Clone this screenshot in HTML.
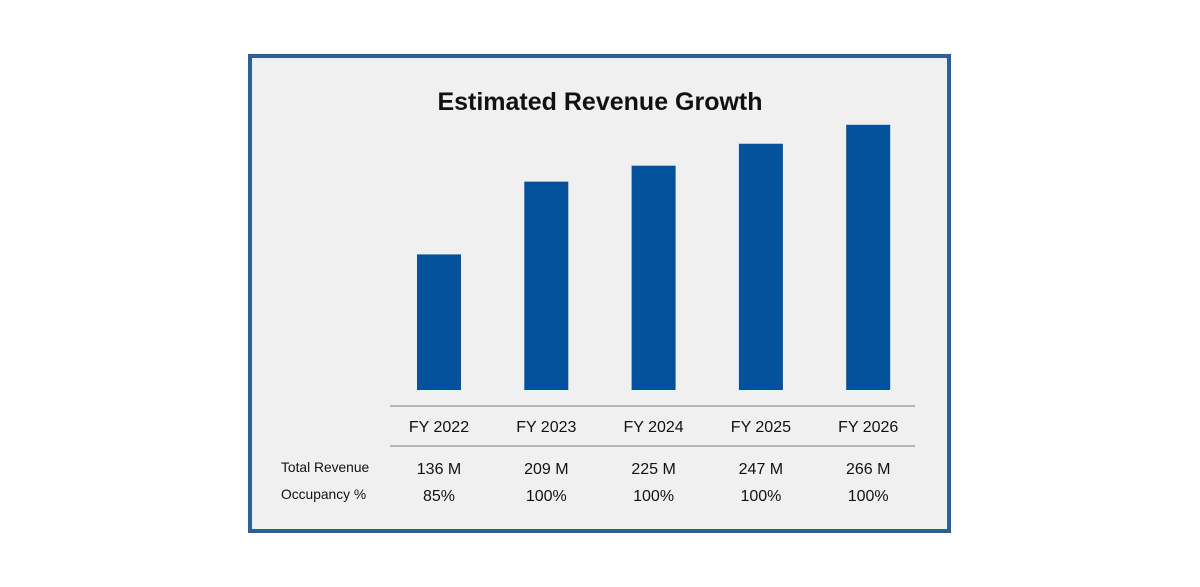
<!DOCTYPE html>
<html><head><meta charset="utf-8"><style>
body{margin:0;width:1200px;height:587px;background:#fff;font-family:"Liberation Sans",sans-serif;overflow:hidden}
#frame{position:absolute;left:248px;top:54px;width:695px;height:471px;border:4px solid #2a6199;background:#f0f0f0}
</style></head><body>
<div id="frame"></div>
<svg id="chart" width="1200" height="587" style="position:absolute;left:0;top:0">
<text x="600" y="110" text-anchor="middle" font-size="25" font-weight="bold" fill="#111">Estimated Revenue Growth</text>
<line x1="390" y1="406" x2="915" y2="406" stroke="#b4b4b4" stroke-width="2"/>
<line x1="390" y1="446" x2="915" y2="446" stroke="#b4b4b4" stroke-width="2"/>
<text x="281" y="472" font-size="13.8" fill="#111">Total Revenue</text>
<text x="281" y="499" font-size="13.8" fill="#111">Occupancy %</text>
<g id="bars"></g>
</svg>
<script>
const categories=["FY 2022","FY 2023","FY 2024","FY 2025","FY 2026"];
const revenue=[136,209,225,247,266];
const revenueLabels=["136 M","209 M","225 M","247 M","266 M"];
const occupancyLabels=["85%","100%","100%","100%","100%"];
const baseY=390, pxPerUnit=0.997;
function xCenter(i){return 439+i*107.3;}
function yOf(v){return baseY-v*pxPerUnit;}
const g=document.getElementById('bars');
const NS="http://www.w3.org/2000/svg";
categories.forEach((c,i)=>{
  const r=document.createElementNS(NS,'rect');
  r.setAttribute('x',xCenter(i)-22);r.setAttribute('width',44);
  r.setAttribute('y',yOf(revenue[i]));r.setAttribute('height',baseY-yOf(revenue[i]));
  r.setAttribute('fill','#02519b');
  
  
  g.appendChild(r);
  const rows=[[c,432,'category-label'],[revenueLabels[i],474,'revenue-value'],[occupancyLabels[i],501,'occupancy-value']];
  rows.forEach(([t,y,n])=>{
    const e=document.createElementNS(NS,'text');
    e.setAttribute('x',xCenter(i));e.setAttribute('y',y);
    e.setAttribute('text-anchor','middle');e.setAttribute('font-size','16');e.setAttribute('fill','#111');
    e.textContent=t;
    
    
    g.appendChild(e);
  });
});
</script>
</body></html>
